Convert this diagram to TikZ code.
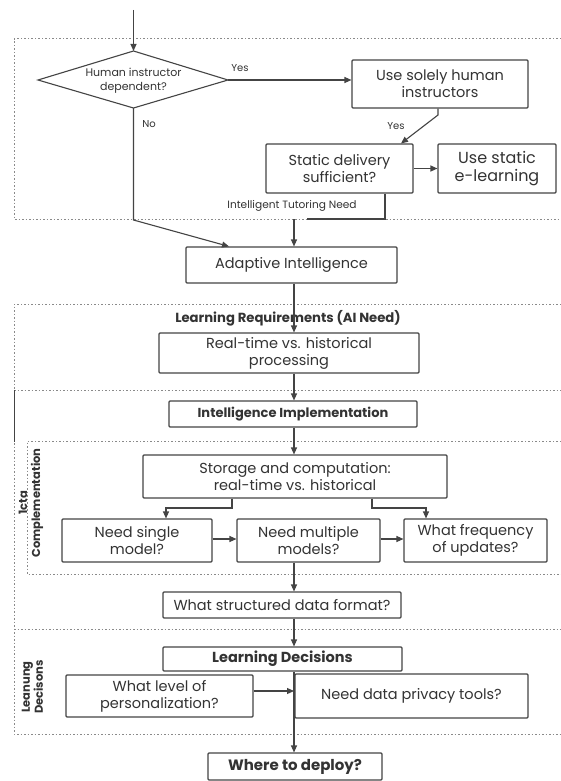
\documentclass[tikz,border=0pt]{standalone}
\usepackage{fontspec}
\setmainfont{Poppins}
\usetikzlibrary{arrows.meta}
\definecolor{ink}{HTML}{333333}
\definecolor{edge}{HTML}{444444}
\definecolor{dotc}{HTML}{8A8A8A}
\begin{document}
\begin{tikzpicture}[x=1pt,y=-1pt,
  box/.style={draw=edge, line width=1.1pt, rounded corners=1pt, align=center, inner sep=1pt, text=ink, font=\fontsize{14.5}{17}\selectfont},
  bbox/.style={box, font=\fontsize{14.5}{17}\selectfont\bfseries},
  lbl/.style={text=ink, align=center, inner sep=0pt, font=\fontsize{10}{13}\selectfont},
  arr/.style={draw=edge, line width=1.1pt, -{Triangle[length=7pt,width=6pt]}},
  ln/.style={draw=edge, line width=1.1pt},
  dots/.style={draw=dotc, line width=1pt, dash pattern=on 1.5pt off 2pt},
  side/.style={text=ink, align=center, inner sep=0pt, rotate=90, font=\fontsize{11.5}{13}\selectfont\bfseries}
]
\useasboundingbox[fill=white] (0,0) rectangle (561,781);

% dotted frames
\draw[dots] (561,39) -- (14,39) -- (14,219) -- (561,219);
\draw[dots] (561,304) -- (14,304) -- (14,734) -- (561,734);
\draw[dots] (14,390) -- (561,390);
\draw[dots] (561,441) -- (27,441) -- (27,574) -- (561,574);
\draw[dots] (14,629) -- (561,629);
\draw[ln, line width=1pt] (14,390) -- (14,442);

% spine reference
\coordinate (sp) at (294,0);

% diamond
\coordinate (dT) at (133.5,51);
\coordinate (dB) at (133.5,108);
\coordinate (dL) at (38,80);
\coordinate (dR) at (228,80);
\draw[ln, line join=miter] (dT) -- (dR) -- (dB) -- (dL) -- cycle;
\node[lbl, font=\fontsize{11}{14}\selectfont] (dia) at (133.5,81) {Human instructor\\dependent?};

% boxes
\node[box, minimum width=176, minimum height=48] (human) at (440,84) {Use solely human\\instructors};
\node[box, minimum width=147, minimum height=49] (static) at (339.5,168.5) {Static delivery\\sufficient?};
\node[box, minimum width=118, minimum height=49, font=\fontsize{16}{18}\selectfont] (elearn) at (497,168.5) {Use static\\e-learning};
\node[box, minimum width=211, minimum height=36] (adapt) at (291.5,265) {Adaptive Intelligence};
\node[box, minimum width=260, minimum height=40] (real) at (289,353) {Real-time vs. historical\\processing};
\node[bbox, minimum width=248, minimum height=26, font=\fontsize{13}{15}\selectfont\bfseries] (impl) at (293,414) {Intelligence Implementation};
\node[box, minimum width=304, minimum height=43] (stor) at (295,476.5) {Storage and computation:\\real-time vs. historical};
\node[box, minimum width=150, minimum height=43] (single) at (137,540.5) {Need single\\model?};
\node[box, minimum width=143, minimum height=43] (multi) at (308.5,540.5) {Need multiple\\models?};
\node[box, minimum width=143, minimum height=43] (freq) at (475.5,540.5) {What frequency\\of updates?};
\node[box, minimum width=238, minimum height=26] (fmt) at (282,605) {What structured data format?};
\node[bbox, minimum width=239, minimum height=24] (dec) at (282.5,659) {Learning Decisions};
\node[box, minimum width=187, minimum height=42] (level) at (159.5,696) {What level of\\personalization?};
\node[box, minimum width=233, minimum height=44] (priv) at (411.5,696) {Need data privacy tools?};
\node[bbox, minimum width=174, minimum height=27, font=\fontsize{15}{17}\selectfont\bfseries] (deploy) at (295,766.5) {Where to deploy?};

% labels
\node[lbl] (yes1) at (240,68) {Yes};
\node[lbl] (yes2) at (396,126) {Yes};
\node[lbl] (no1) at (149,124) {No};
\node[lbl, font=\fontsize{10.6}{13}\selectfont] (itn) at (292,206) {Intelligent Tutoring Need};
\node[lbl, font=\fontsize{13.2}{15}\selectfont\bfseries] (lreq) at (288,318) {Learning Requirements (AI Need)};
\node[side] (sideA) at (31,503) {1cta\\Complementation};
\node[side] (sideB) at (32.5,687) {Leanung\\Decisons};

% connectors
\coordinate (start) at (133.5,10);
\draw[arr] (start) -- (dT);
\draw[arr] (dR) -- (dR -| human.west);
\coordinate (hy) at (438,115);
\coordinate (st) at (401,0);
\draw[arr] (human.south -| hy) -- (hy) -- (static.north -| st);
\draw[arr] (static.east) -- (elearn.west);
\coordinate (itr) at (385,219);
\coordinate (itl) at (307,219);
\draw[ln] (static.south -| itr) -- (itr) -- (itl);
\coordinate (itd) at (294,219);
\draw[arr] (itd) -- (adapt.north -| sp);
\coordinate (nob) at (133.5,220);
\coordinate (noe) at (229,0);
\draw[arr] (dB) -- (nob) -- (adapt.north -| noe);
\draw[arr] (adapt.south -| sp) -- (real.north -| sp);
\draw[arr] (real.south -| sp) -- (impl.north -| sp);
\draw[arr] (impl.south -| sp) -- (stor.north -| sp);
\coordinate (bl1) at (232,508);
\coordinate (bl2) at (166,508);
\draw[arr] (stor.south -| bl1) -- (bl1) -- (bl2) -- (single.north -| bl2);
\coordinate (br1) at (372,508);
\coordinate (br2) at (426,508);
\draw[arr] (stor.south -| br1) -- (br1) -- (br2) -- (freq.north -| br2);
\coordinate (hr) at (0,539);
\draw[arr] (single.east |- hr) -- (multi.west |- hr);
\draw[arr] (multi.east |- hr) -- (freq.west |- hr);
\draw[arr] (multi.south -| sp) -- (fmt.north -| sp);
\draw[arr] (fmt.south -| sp) -- (dec.north -| sp);
\coordinate (hl) at (0,691);
\draw[arr] (level.east |- hl) -- (sp |- hl);
\draw[arr] (dec.south -| sp) -- (deploy.north -| sp);
\end{tikzpicture}
\end{document}
